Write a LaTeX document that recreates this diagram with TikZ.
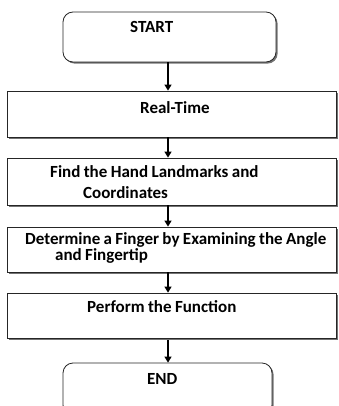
\documentclass[tikz,border=0pt]{standalone}
\usepackage{fontspec}
\setmainfont{Carlito}
\usetikzlibrary{shadows,arrows.meta}
\newcommand{\myboxfont}{\bfseries\fontsize{17}{20}\selectfont\spaceskip=0.2em plus 0.05em\relax}
\begin{document}
\begin{tikzpicture}[x=1pt,y=-1pt,
  box/.style={draw=black!85, line width=0.8pt, fill=white, rectangle, inner sep=0pt,
    drop shadow={shadow xshift=1.6pt, shadow yshift=-1.6pt, fill=black!55, opacity=1}},
  rbox/.style={box, rounded corners=10pt},
  txt/.style={font=\myboxfont, inner sep=0pt, anchor=west},
  arr/.style={-{Triangle[length=6pt,width=7pt]}, line width=1.2pt, black}]
\useasboundingbox (0,0) rectangle (339,406);
\node[rbox, minimum width=213pt, minimum height=50pt] (start) at (169.5,37) {};
\node[box, minimum width=329pt, minimum height=46pt] (rt) at (171.5,114) {};
\node[box, minimum width=329pt, minimum height=47pt] (find) at (171.5,181.5) {};
\node[box, minimum width=329pt, minimum height=45pt] (det) at (171.5,249.5) {};
\node[box, minimum width=329pt, minimum height=45pt] (perf) at (171.5,315.5) {};
\node[rbox, minimum width=209pt, minimum height=52pt] (end) at (167.5,389) {};
\node[txt] (tstart) at (130,27) {START};
\node[txt] (trt) at (140,108) {Real-Time};
\node[txt] (tfind1) at (50,172) {Find the Hand Landmarks and};
\node[txt] (tfind2) at (83,193) {Coordinates};
\node[txt] (tdet1) at (25,240) {Determine a Finger by Examining the Angle};
\node[txt] (tdet2) at (55,256) {and Fingertip};
\node[txt] (tperf) at (87,307) {Perform the Function};
\node[txt] (tend) at (147,379) {END};
\coordinate (ax) at (168,0);
\draw[arr] (start.south -| ax) -- (rt.north -| ax);
\draw[arr] (rt.south -| ax) -- (find.north -| ax);
\draw[arr] (find.south -| ax) -- (det.north -| ax);
\draw[arr] (det.south -| ax) -- (perf.north -| ax);
\draw[arr] ([yshift=-2pt]perf.south -| ax) -- (end.north -| ax);
\end{tikzpicture}
\end{document}
